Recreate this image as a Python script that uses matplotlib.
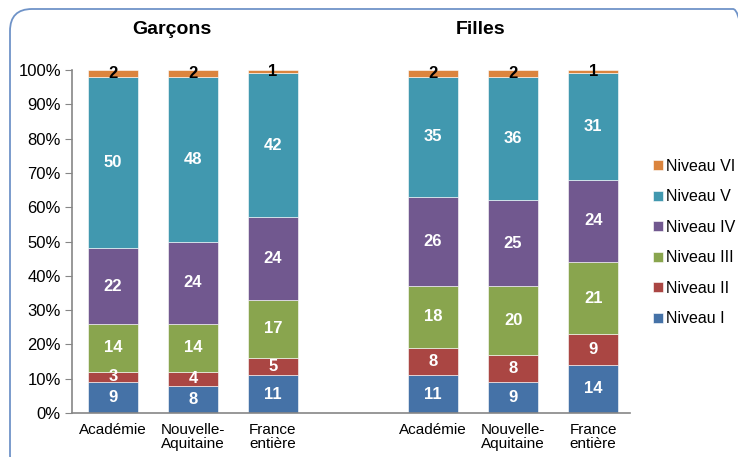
import numpy as np
import matplotlib.pyplot as plt
from matplotlib.patches import FancyBboxPatch

plt.rcParams['font.family'] = ['Liberation Sans', 'DejaVu Sans']

categories = ['Académie', 'Nouvelle-\nAquitaine', 'France\nentière',
              'Académie', 'Nouvelle-\nAquitaine', 'France\nentière']
groups = ['Garçons', 'Filles']
levels = ['Niveau I', 'Niveau II', 'Niveau III', 'Niveau IV', 'Niveau V', 'Niveau VI']

niveau_1 = [9, 8, 11, 11, 9, 14]
niveau_2 = [3, 4, 5, 8, 8, 9]
niveau_3 = [14, 14, 17, 18, 20, 21]
niveau_4 = [22, 24, 24, 26, 25, 24]
niveau_5 = [50, 48, 42, 35, 36, 31]
niveau_6 = [2, 2, 1, 2, 2, 1]

colors = ['#4572A7', '#AA4643', '#89A54E', '#71588F', '#4198AF', '#DB843D']

series = [niveau_1, niveau_2, niveau_3, niveau_4, niveau_5, niveau_6]
x = np.array([0, 1, 2, 4, 5, 6])

W, H = 738, 457
fig = plt.figure(figsize=(W / 100, H / 100), dpi=100)
ax = fig.add_axes([72 / W, (H - 413) / H, (630 - 72) / W, (413 - 70) / H])

bottom = np.zeros(len(x))
for i, vals in enumerate(series):
    vals = np.array(vals, dtype=float)
    ax.bar(x, vals, 0.625, bottom=bottom, color=colors[i], label=levels[i],
           edgecolor='white', linewidth=0.4)
    for xi, v, b0 in zip(x, vals, bottom):
        # top level labels are black, the others white
        c = 'black' if i == 5 else 'white'
        ax.text(xi, b0 + v / 2, '%d' % v, ha='center', va='center',
                fontsize=12, fontweight='bold', color=c)
    bottom += vals

ax.set_xlim(-0.51, 6.46)
ax.set_ylim(0, 100)
ax.set_yticks(np.arange(0, 101, 10))
ax.set_yticklabels(['%d%%' % v for v in range(0, 101, 10)], fontsize=12)
ax.set_xticks(x)
ax.set_xticklabels(categories, fontsize=11, linespacing=1.05)
ax.tick_params(axis='x', length=0, pad=7)
ax.tick_params(axis='y', length=5, color='#868686', pad=3)
for s in ['top', 'right']:
    ax.spines[s].set_visible(False)
for s in ['left', 'bottom']:
    ax.spines[s].set_color('#868686')
    ax.spines[s].set_linewidth(1.2)

fig.text(172 / W, 1 - 30 / H, groups[0], ha='center', va='center',
         fontsize=14, fontweight='bold')
fig.text(481 / W, 1 - 30 / H, groups[1], ha='center', va='center',
         fontsize=14, fontweight='bold')

handles, labels = ax.get_legend_handles_labels()
fig.legend(handles[::-1], labels[::-1], loc='upper left',
           bbox_to_anchor=(645 / W, 1 - 151 / H), frameon=False, fontsize=11.5,
           handlelength=0.6, handleheight=0.6, handletextpad=0.2,
           labelspacing=0.97, borderpad=0)

border = FancyBboxPatch((10, -20), 745, H - 9 + 20, boxstyle='round,pad=0,rounding_size=22',
                        transform=None, facecolor='none', edgecolor='#6F93C8',
                        linewidth=1.3, clip_on=False)
fig.patches.append(border)

fig.savefig('out.png', dpi=100)
